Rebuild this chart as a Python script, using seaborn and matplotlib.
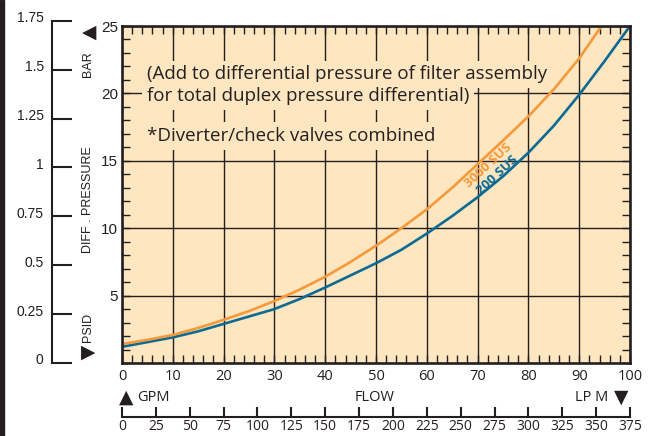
import matplotlib
matplotlib.use("Agg")
import matplotlib.pyplot as plt
import seaborn as sns
import numpy as np
import pandas as pd
from matplotlib.ticker import MultipleLocator, FixedLocator
from matplotlib.transforms import ScaledTranslation
from matplotlib.patches import Rectangle

# ---------------- data ----------------
flow_200 = [0, 5, 10, 15, 20, 25, 30, 35, 40, 45, 50, 55, 60, 65, 70, 75, 80, 85, 90, 95, 100]
dp_200 = [1.2, 1.55, 1.9, 2.35, 2.9, 3.45, 4.0, 4.75, 5.6, 6.5, 7.4, 8.4, 9.6, 10.9, 12.3, 13.85,
          15.6, 17.6, 19.9, 22.4, 25.0]
flow_3000 = [0, 5, 10, 15, 20, 25, 30, 35, 40, 45, 50, 55, 60, 65, 70, 75, 80, 85, 90, 94.4]
dp_3000 = [1.4, 1.72, 2.08, 2.6, 3.2, 3.85, 4.6, 5.45, 6.4, 7.5, 8.7, 10.0, 11.4, 13.0, 14.75, 16.5,
           18.3, 20.3, 22.6, 25.0]

gpm_ticks = [0, 10, 20, 30, 40, 50, 60, 70, 80, 90, 100]
psi_ticks = [5, 10, 15, 20, 25]
bar_ticks = [0, 0.25, 0.5, 0.75, 1, 1.25, 1.5, 1.75]
bar_labels = ["0", "0.25", "0.5", "0.75", "1", "1.25", "1.5", "1.75"]
lpm_ticks = list(range(0, 376, 25))
PSI_PER_BAR = 14.5038

note_lines = ["(Add to differential pressure of filter assembly",
              "for total duplex pressure differential)"]
note2 = "*Diverter/check valves combined"

# ---------------- style ----------------
BG = "#fde6c0"
DARK = "#231f20"
ORANGE = "#f5993a"
BLUE = "#0b6a94"

W, H = 652, 436
sns.set_theme(style="white")
plt.rcParams["font.family"] = ["Open Sans", "DejaVu Sans"]

fig = plt.figure(figsize=(W / 100, H / 100), dpi=100)
fig.patch.set_facecolor("white")


def fx(px):
    return px / W


def fy(py):
    return 1 - py / H


# main axes
ax_l, ax_r, ax_t, ax_b = 122, 630, 26, 363
ax = fig.add_axes([fx(ax_l), fy(ax_b), (ax_r - ax_l) / W, (ax_b - ax_t) / H])
ax.set_facecolor(BG)

df = pd.concat([
    pd.DataFrame({"flow": flow_200, "dp": dp_200, "oil": "200 SUS"}),
    pd.DataFrame({"flow": flow_3000, "dp": dp_3000, "oil": "3000 SUS"}),
])
sns.lineplot(data=df, x="flow", y="dp", hue="oil",
             palette={"200 SUS": BLUE, "3000 SUS": ORANGE},
             estimator=None, sort=False, legend=False, lw=1.9, ax=ax, zorder=4)

ax.set_xlim(0, 100)
ax.set_ylim(0, 25)
ax.set_xlabel("")
ax.set_ylabel("")
ax.xaxis.set_major_locator(FixedLocator(gpm_ticks))
ax.yaxis.set_major_locator(FixedLocator(psi_ticks))
ax.xaxis.set_minor_locator(MultipleLocator(2))
ax.yaxis.set_minor_locator(MultipleLocator(1))
ax.set_xticklabels([str(t) for t in gpm_ticks])
ax.set_yticklabels([str(t) for t in psi_ticks])
ax.grid(True, which="major", color=DARK, lw=1.0)
ax.set_axisbelow(True)
ax.tick_params(which="both", direction="in", top=True, right=True, bottom=True, left=True,
               color=DARK, width=1.0)
ax.tick_params(which="minor", length=5.5)
ax.tick_params(which="major", length=5.5)
ax.tick_params(axis="x", which="major", pad=4, labelsize=10.5, labelcolor=DARK)
ax.tick_params(axis="y", which="major", pad=3, labelsize=11, labelcolor=DARK)
for lab in ax.get_yticklabels():
    lab.set_family(["Liberation Sans", "DejaVu Sans"])
for s in ax.spines.values():
    s.set_color(DARK)
    s.set_linewidth(1.9)
    s.set_zorder(6)

# notes with background boxes
bbox = dict(boxstyle="square,pad=0.25", fc=BG, ec="none")
note_kw = dict(transform=ax.transAxes, fontsize=13.5, color=DARK, ha="left", va="center",
               bbox=bbox, zorder=3)
ax.text(0.049, 0.857, note_lines[0], **note_kw)
ax.text(0.049, 0.792, note_lines[1], **note_kw)
ax.text(0.049, 0.674, note2, **note_kw)

# curve labels, set in the band between the two curves
y_mid = 14.4
to_px = ax.transData.transform
xo = np.interp(y_mid, dp_3000, flow_3000)
xb = np.interp(y_mid, dp_200, flow_200)
po = to_px((xo, y_mid))
pb = to_px((xb, y_mid))
mid = (po + pb) / 2
d = to_px((xo + 2.5, np.interp(xo + 2.5, flow_3000, dp_3000))) - \
    to_px((xo - 2.5, np.interp(xo - 2.5, flow_3000, dp_3000)))
theta = np.arctan2(d[1], d[0])
perp = np.array([np.sin(theta), -np.cos(theta)])  # toward lower-right
inv = ax.transData.inverted()
a3000 = inv.transform(mid - 1.5 * perp)
a200 = inv.transform(mid + 11.5 * perp)
lab_kw = dict(rotation=np.degrees(theta), rotation_mode="anchor", fontsize=9.5,
              fontweight="bold", ha="center", va="baseline",
              family=["Open Sans", "DejaVu Sans"], zorder=5)
ax.text(a3000[0], a3000[1], "3000 SUS", color=ORANGE, **lab_kw)
ax.text(a200[0], a200[1], "200 SUS", color=BLUE, **lab_kw)

# BAR scale (left bracket)
pos = ax.get_position()
bar_h = pos.height * (1.75 * PSI_PER_BAR / 25)
axb = fig.add_axes([fx(52), pos.y0, 20 / W, bar_h])
axb.set_facecolor("none")
axb.set_ylim(0, 1.75)
axb.set_xlim(0, 1)
axb.yaxis.set_major_locator(FixedLocator(bar_ticks))
axb.set_yticklabels(bar_labels)
axb.set_xticks([])
for k, s in axb.spines.items():
    s.set_visible(k == "left")
axb.spines["left"].set_color(DARK)
axb.spines["left"].set_linewidth(1.5)
axb.tick_params(axis="y", which="major", left=True, right=False, direction="in",
                length=14.4, width=1.5, color=DARK, pad=6, labelsize=10, labelcolor=DARK)
off = ScaledTranslation(0, 4 / 100, fig.dpi_scale_trans)
for lab in axb.get_yticklabels():
    lab.set_family(["Liberation Sans", "DejaVu Sans"])
    lab.set_transform(lab.get_transform() + off)

# LPM scale (bottom bracket)
axf = fig.add_axes([fx(ax_l), fy(417), (ax_r - ax_l) / W, 0.001])
axf.set_facecolor("none")
axf.set_xlim(0, 375)
axf.xaxis.set_major_locator(FixedLocator(lpm_ticks))
axf.set_xticklabels([str(t) for t in lpm_ticks])
axf.set_yticks([])
for k, s in axf.spines.items():
    s.set_visible(k == "bottom")
axf.spines["bottom"].set_color(DARK)
axf.spines["bottom"].set_linewidth(1.5)
axf.tick_params(axis="x", which="major", bottom=True, top=False, direction="in",
                length=7.5, width=1.5, color=DARK, pad=1.5, labelsize=10, labelcolor=DARK)

# side labels
side_kw = dict(rotation=90, ha="center", va="center", color=DARK, fontsize=9,
               family=["Liberation Sans", "DejaVu Sans"])
fig.text(fx(88), fy(64), "BAR", **side_kw)
fig.text(fx(88), fy(200), "DIFF . PRESSURE", **side_kw)
fig.text(fx(88), fy(327), "PSID", **side_kw)
tri_kw = dict(ha="center", va="center", color=DARK, fontsize=13.5, family=["DejaVu Sans"])
fig.text(fx(89), fy(32), "\u25C0", **tri_kw)
fig.text(fx(88), fy(352), "\u25B6", **tri_kw)

# bottom labels
fig.text(fx(126), fy(397), "\u25B2", **tri_kw)
fig.text(fx(137), fy(397), "GPM", ha="left", va="center", color=DARK, fontsize=10.5)
fig.text(fx(375), fy(397), "FLOW", ha="center", va="center", color=DARK, fontsize=10.5)
fig.text(fx(608), fy(397), "LP M", ha="right", va="center", color=DARK, fontsize=10.5)
fig.text(fx(621), fy(397), "\u25BC", **tri_kw)

# dark strip on the left edge
fig.patches.append(Rectangle((0, 0), 4 / W, 1, transform=fig.transFigure, color=DARK,
                             zorder=10))

fig.savefig("out.png", dpi=100)
